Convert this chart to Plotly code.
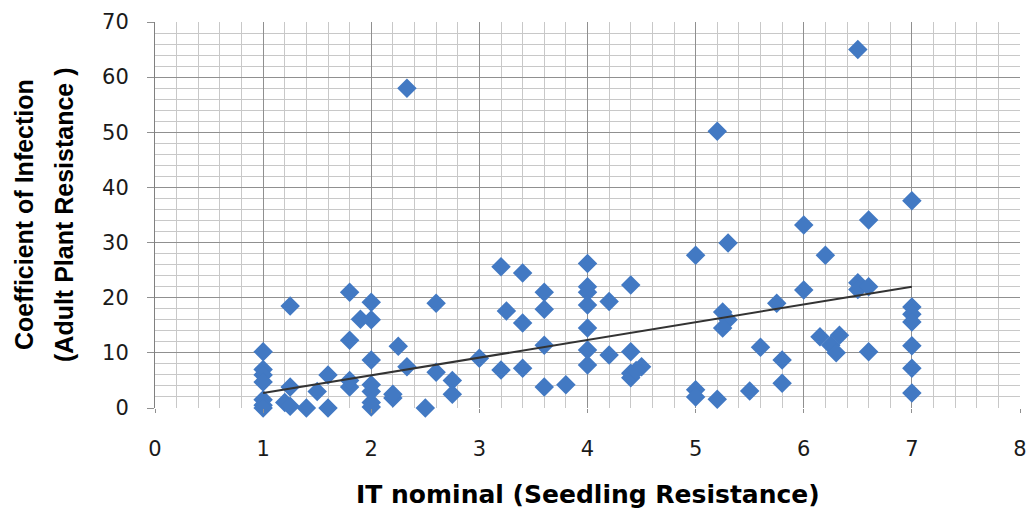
import plotly.graph_objects as go

# IT nominal (seedling) vs coefficient of infection (adult plant)
it_nominal = [
    1, 1, 1, 1, 1, 1, 1,
    1.25, 1.25, 1.2, 1.25, 1.4, 1.5, 1.6, 1.6,
    1.8, 2, 1.9, 2, 1.8, 2, 1.8, 1.8, 2, 2, 2, 2, 2.2, 2.2, 2.25, 2.33, 2.33,
    2.6, 2.6, 2.5, 2.75, 2.75, 3,
    3.2, 3.4, 3.25, 3.4, 3.6, 3.6, 3.6, 3.2, 3.4, 3.6, 3.8,
    4, 4, 4, 4, 4.2, 4.4, 4, 4, 4, 4.2, 4.4, 4.4, 4.4, 4.5, 4.45,
    5, 5.3, 5.2, 5, 5, 5.2, 5.5, 5.25, 5.3, 5.25, 5.6, 5.75, 5.8, 5.8,
    6, 6.2, 6, 6.15, 6.25, 6.33, 6.3, 6.5, 6.5, 6.6, 6.6, 6.6, 6.5,
    7, 7, 7, 7, 7, 7, 7,
]
coef_infection = [
    10.2, 7, 6, 4.7, 1.5, 0.5, 0,
    18.5, 3.8, 1, 0.3, 0, 3, 6, 0,
    21, 19.2, 16.1, 16, 12.3, 8.7, 3.8, 5, 4.2, 3, 0.2, 1, 1.8, 2.5, 11.2, 7.5, 58,
    19, 6.5, 0, 5, 2.5, 9,
    25.6, 24.5, 17.6, 15.4, 21, 17.9, 11.4, 6.9, 7.2, 3.8, 4.2,
    26.2, 22, 21, 18.7, 19.3, 22.3, 14.5, 10.5, 7.8, 9.6, 10.2, 6.3, 5.5, 7.5, 6.8,
    27.7, 29.9, 50.2, 3.3, 2, 1.6, 3.1, 17.4, 16, 14.5, 11, 19, 8.7, 4.5,
    33.2, 27.7, 21.4, 12.9, 11.4, 13.2, 10, 22.7, 21.5, 22, 34.1, 10.2, 65,
    37.6, 18.3, 17, 15.6, 11.3, 7.2, 2.7,
]

# Linear trendline end points
trend_x = [1, 7]
trend_y = [2.7, 22.0]

x_ticks = [0, 1, 2, 3, 4, 5, 6, 7, 8]
y_ticks = [0, 10, 20, 30, 40, 50, 60, 70]

fig = go.Figure()
fig.add_trace(go.Scatter(
    x=it_nominal, y=coef_infection, mode="markers",
    marker=dict(symbol="diamond", size=15, color="#4279c3", line=dict(width=0)),
    cliponaxis=False, showlegend=False,
))
fig.add_trace(go.Scatter(
    x=trend_x, y=trend_y, mode="lines",
    line=dict(color="#333333", width=2), showlegend=False,
))

tickfont = dict(family="DejaVu Sans", size=21, color="#1a1a1a")
fig.update_xaxes(
    range=[0, 8], tickvals=x_ticks, ticktext=[str(v) for v in x_ticks],
    showgrid=True, gridcolor="#909090", gridwidth=1,
    minor=dict(dtick=0.2, showgrid=True, gridcolor="#c8c8c8", gridwidth=1),
    ticks="outside", ticklen=4, tickcolor="#909090",
    tickfont=tickfont, ticklabelstandoff=18,
    showline=False, zeroline=False, automargin=False,
)
fig.update_yaxes(
    range=[0, 70], tickvals=y_ticks, ticktext=[str(v) for v in y_ticks],
    showgrid=True, gridcolor="#909090", gridwidth=1,
    minor=dict(dtick=2, showgrid=True, gridcolor="#c8c8c8", gridwidth=1),
    ticks="outside", ticklen=7, tickcolor="#909090",
    tickfont=tickfont, ticklabelstandoff=14,
    showline=True, linecolor="#808080", linewidth=1, zeroline=False,
    automargin=False,
)

fig.add_annotation(
    text="IT nominal (Seedling Resistance)", xref="paper", yref="paper",
    x=0.5, y=-0.225, xanchor="center", yanchor="middle", showarrow=False,
    font=dict(family="DejaVu Sans", size=25, color="#000000", weight="bold"),
)
fig.add_annotation(
    text="Coefficient of Infection", xref="paper", yref="paper",
    x=(24 - 155) / 865, y=0.5, xanchor="center", yanchor="middle",
    textangle=-90, showarrow=False,
    font=dict(family="Liberation Sans", size=25, color="#000000", weight="bold"),
)
fig.add_annotation(
    text="(Adult Plant Resistance )", xref="paper", yref="paper",
    x=(64 - 155) / 865, y=0.5, xanchor="center", yanchor="middle",
    textangle=-90, showarrow=False,
    font=dict(family="Liberation Sans", size=25, color="#000000", weight="bold"),
)

fig.update_layout(
    width=1028, height=511,
    margin=dict(l=155, r=8, t=22, b=103),
    paper_bgcolor="white", plot_bgcolor="white",
)

fig.write_html(
    "out.html",
    config={"displayModeBar": False},
    post_script="document.body.style.margin='0';document.body.style.overflow='hidden';",
)
